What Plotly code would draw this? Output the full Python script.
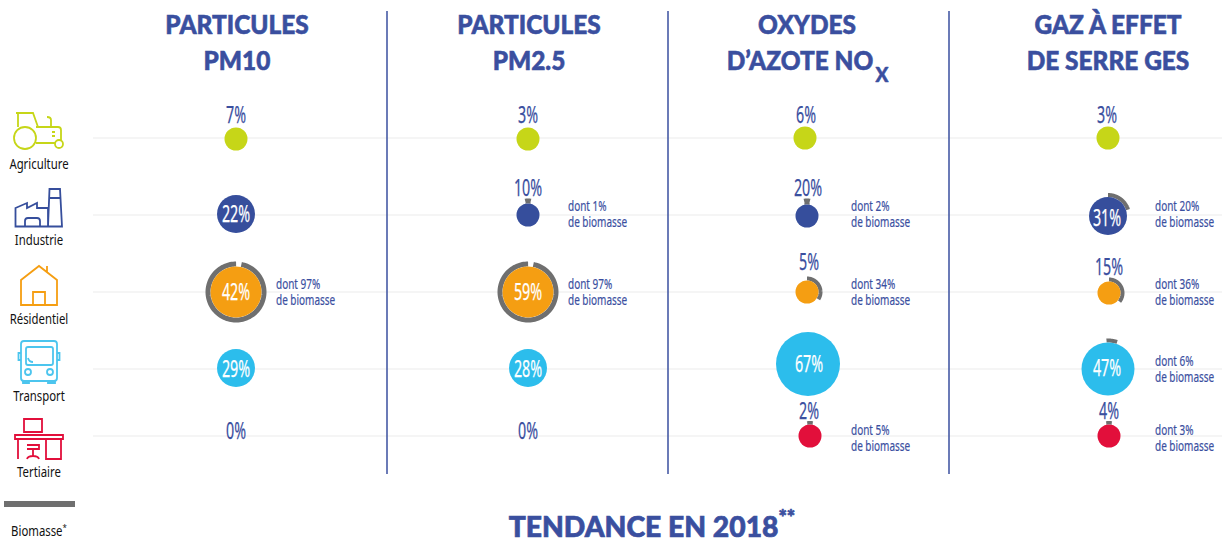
import json
import numpy as np
import plotly.graph_objects as go

# ---------- DATA ----------
sectors = ["Agriculture", "Industrie", "Résidentiel", "Transport", "Tertiaire"]
legend_biomass = "Biomasse<sup>*</sup>"
title_line1 = ["PARTICULES", "PARTICULES", "OXYDES", "GAZ À EFFET"]
title_line2 = ["PM10", "PM2.5", "D’AZOTE NO", "DE SERRE GES"]
nox_subscript = "X"
footer_title = "TENDANCE EN 2018<sup>**</sup>"
shares = [[7, 22, 42, 29, 0], [3, 10, 59, 28, 0], [6, 20, 5, 67, 2], [3, 31, 15, 47, 4]]
biomass = [[None, None, 97, None, None], [None, 1, 97, None, None],
           [None, 2, 34, None, 5], [None, 20, 36, 6, 3]]

# ---------- LAYOUT / STYLE ----------
W, H = 1229, 540
colors = ["#C6D618", "#364E9C", "#F59E12", "#2CBDEC", "#E20F3B"]
BLUE, GREY, PALE = "#3A4F9F", "#6F6F6F", "#F2F2F2"
BODY, HEAD = "Noto Sans", "Lato"
col_cx = [[236, 236, 236, 236, 236], [528, 528, 528, 528, 528],
          [805, 807, 807, 808, 810], [1108, 1108, 1109, 1108, 1109]]
col_cy = [[139, 214, 292, 368, 436], [139, 215, 292, 368, 436],
          [138, 216, 292, 364, 436], [138, 216, 293, 369, 436]]
diam = [[23, 38, 51, 38, 0], [23, 23, 51, 38, 0], [23, 23, 23, 64, 23], [23, 38, 23, 53, 23]]
arc_w = [[0, 0, 5, 0, 0], [0, 5, 5, 0, 0], [0, 6, 4, 0, 3.5], [0, 4, 4, 4, 3.5]]
label_y = [[117, 216, 294, 371, 433], [117, 190, 294, 371, 433],
           [117, 190, 264, 366, 413], [117, 220, 269, 370, 413]]
label_dx = [[0, 0, 0, 0, 0], [0, 0, 0, 0, 0], [1, 1, 2, 1, -1], [-1, -1, 0, -1, 0]]
inside = [[0, 1, 1, 1, 0], [0, 0, 1, 1, 0], [0, 0, 0, 1, 0], [0, 1, 0, 1, 0]]
note_x = [276, 568, 851, 1155]
note_y = [[0, 0, 293, 0, 0], [0, 215, 293, 0, 0], [0, 215, 293, 0, 439], [0, 215, 293, 370, 439]]
row_y = [138, 215, 292, 369, 436]
sep_x = [387, 668, 949]
title_x = [237, 529, 800, 1108]
side_y = [166, 242, 321, 398, 474]
# horizontal squeeze and extra stroke per font size, to mimic the condensed, heavier typeface
squeeze = {"23px": 0.62, "15px": 0.665, "13.5px": 0.84, "27px": 0.905, "20px": 0.95, "29px": 0.975}
embolden = {"23px": 0.25, "15px": 0.2, "27px": 0.6, "20px": 0.5, "29px": 0.7}

fig = go.Figure()

# Biomass arcs
for c in range(4):
    for r in range(5):
        b = biomass[c][r]
        if b is None:
            continue
        w = arc_w[c][r]
        rad = diam[c][r] / 2 + w / 2
        span = max(b / 100 * 360, np.degrees(5.5 / rad))
        start = -span / 2 if b <= 5 else (-3 if b < 10 else 0)
        if b > 90:
            start = 11
        th = np.radians(np.linspace(start, start + span, 120))
        fig.add_trace(go.Scatter(
            x=col_cx[c][r] + rad * np.sin(th), y=col_cy[c][r] - rad * np.cos(th),
            mode="lines", line=dict(color=GREY, width=w, shape="linear", simplify=False),
            hoverinfo="skip", showlegend=False))

# Circles
for c in range(4):
    for r in range(5):
        if diam[c][r]:
            fig.add_trace(go.Scatter(
                x=[col_cx[c][r]], y=[col_cy[c][r]], mode="markers",
                marker=dict(size=diam[c][r], color=colors[r], line=dict(width=0)),
                hoverinfo="skip", showlegend=False))

def text(x, y, txt, size, color=BLUE, pos="middle center", family=BODY, weight="normal"):
    fig.add_trace(go.Scatter(
        x=[x], y=[y], mode="text", text=[txt], textposition=pos,
        textfont=dict(family=family, size=size, color=color, weight=weight),
        hoverinfo="skip", showlegend=False))

# Percent labels
for c in range(4):
    for r in range(5):
        text(col_cx[c][r] + label_dx[c][r], label_y[c][r], f"{shares[c][r]}%", 23,
             color="white" if inside[c][r] else BLUE)

# Biomass notes
for c in range(4):
    for r in range(5):
        if biomass[c][r] is not None:
            ny = note_y[c][r]
            text(note_x[c], ny - 8, f"dont {biomass[c][r]}%", 15, pos="middle right")
            text(note_x[c], ny + 8, "de biomasse", 15, pos="middle right")

# Titles
for x, a, b in zip(title_x, title_line1, title_line2):
    text(807 if a == "OXYDES" else x, 27, a, 27, family=HEAD, weight=900)
    text(x, 63, b, 27, family=HEAD, weight=900)
text(882, 77, nox_subscript, 20, family=HEAD, weight=900)
text(652, 530, footer_title, 29, family=HEAD, weight=900)

# Side labels
for y, s in zip(side_y, sectors):
    text(39, y, s, 13.5, color="#111111")
text(39, 533, legend_biomass, 13.5, color="#111111")

shapes = []
for y in row_y:
    shapes.append(dict(type="line", x0=93, x1=1222, y0=y, y1=y, line=dict(color=PALE, width=1.5), layer="below"))
for x in sep_x:
    shapes.append(dict(type="line", x0=x, x1=x, y0=11, y1=474, line=dict(color=BLUE, width=1.5), layer="below"))
shapes.append(dict(type="rect", x0=4, x1=75, y0=501, y1=507, fillcolor=GREY, line=dict(width=0)))

def icon(path, color, w=1.8):
    shapes.append(dict(type="path", path=path, line=dict(color=color, width=w), fillcolor="rgba(0,0,0,0)"))

def circ(cx, cy, r, color, w=1.8):
    shapes.append(dict(type="circle", x0=cx - r, x1=cx + r, y0=cy - r, y1=cy + r,
                       line=dict(color=color, width=w), fillcolor="rgba(0,0,0,0)"))

# Tractor
circ(25, 138, 11, colors[0])
circ(59, 144, 4, colors[0])
icon("M16,113 L33,113 L38,127 M18,113 L18,127 M36,127 L58,127 Q61,127 61,130 L61,141 M36,143 L55,143 M47,117 Q51,117 51,120 L51,127 M52,132 L55,132 M52,136 L55,136", colors[0])
# Factory
icon("M15.5,226.5 L15.5,208 L27,203 L27,208 L37,203 L37,208 L48,208 L48,226.5 Z M25,226.5 L25,221 Q25,218 28,218 L37,218 Q40,218 40,221 L40,226.5 M48,226.5 L49.5,189 L60,189 L62,226.5 L48,226.5 M49,198 L61,198", colors[1])
# House
icon("M21,305 L21,280 L39,266 L57,280 L57,305 Z M33,305 L33,292 L45,292 L45,305 M47,266 L47,272", colors[2])
# Bus
bus = "#4CC5EE"
icon("M24,341 L54,341 Q57,341 57,344 L57,378 Q57,381 54,381 L24,381 Q21,381 21,378 L21,344 Q21,341 24,341 Z", bus)
icon("M28,347 L51,347 Q53,347 53,349 L53,363 Q53,365 51,365 L28,365 Q26,365 26,363 L26,349 Q26,347 28,347 Z M28,358 Q29,362 33,362 M21,353 L18.5,353 L18.5,360 L21,360 M57,353 L59.5,353 L59.5,360 L57,360 M23,381 L23,383 L29,383 L29,381 M48,381 L48,383 L55,383 L55,381", bus)
circ(28, 372, 3, bus)
circ(50, 372, 3, bus)
# Desk
icon("M24,419 L42,419 L42,432 L24,432 Z M15,435 L63,435 L63,439 L15,439 Z M18,439 L18,459 M46,439 L46,459 L61,459 L61,439 M27,445 L39,445 L39,449 L27,449 M33,449 L33,456 M27,459 Q28,456 33,456 Q38,456 39,459", colors[4])

fig.update_layout(
    width=W, height=H, margin=dict(l=0, r=0, t=0, b=0), paper_bgcolor="white", plot_bgcolor="white",
    xaxis=dict(range=[0, W], visible=False, fixedrange=True),
    yaxis=dict(range=[H, 0], visible=False, fixedrange=True),
    showlegend=False, shapes=shapes)

js = """
document.body.style.margin='0';document.documentElement.style.overflow='hidden';
var SQ = %s, EM = %s;
function squeezeTexts(){
  document.querySelectorAll('.textpoint text').forEach(function(t){
    if(t.getAttribute('textLength')) return;
    var cs = getComputedStyle(t), fs = cs.fontSize, k = SQ[fs];
    if(!k) return;
    var len = t.getComputedTextLength();
    if(len > 0){
      t.setAttribute('lengthAdjust','spacingAndGlyphs'); t.setAttribute('textLength', (len*k).toFixed(1));
      if(EM[fs]){ t.style.stroke = cs.fill; t.style.strokeWidth = EM[fs] + 'px'; }
    }
  });
}
squeezeTexts(); setTimeout(squeezeTexts, 50); setTimeout(squeezeTexts, 300);
if(document.fonts && document.fonts.ready){ document.fonts.ready.then(squeezeTexts); }
""" % (json.dumps(squeeze), json.dumps(embolden))

fig.write_html("out.html", config={"displayModeBar": False}, post_script=js)
